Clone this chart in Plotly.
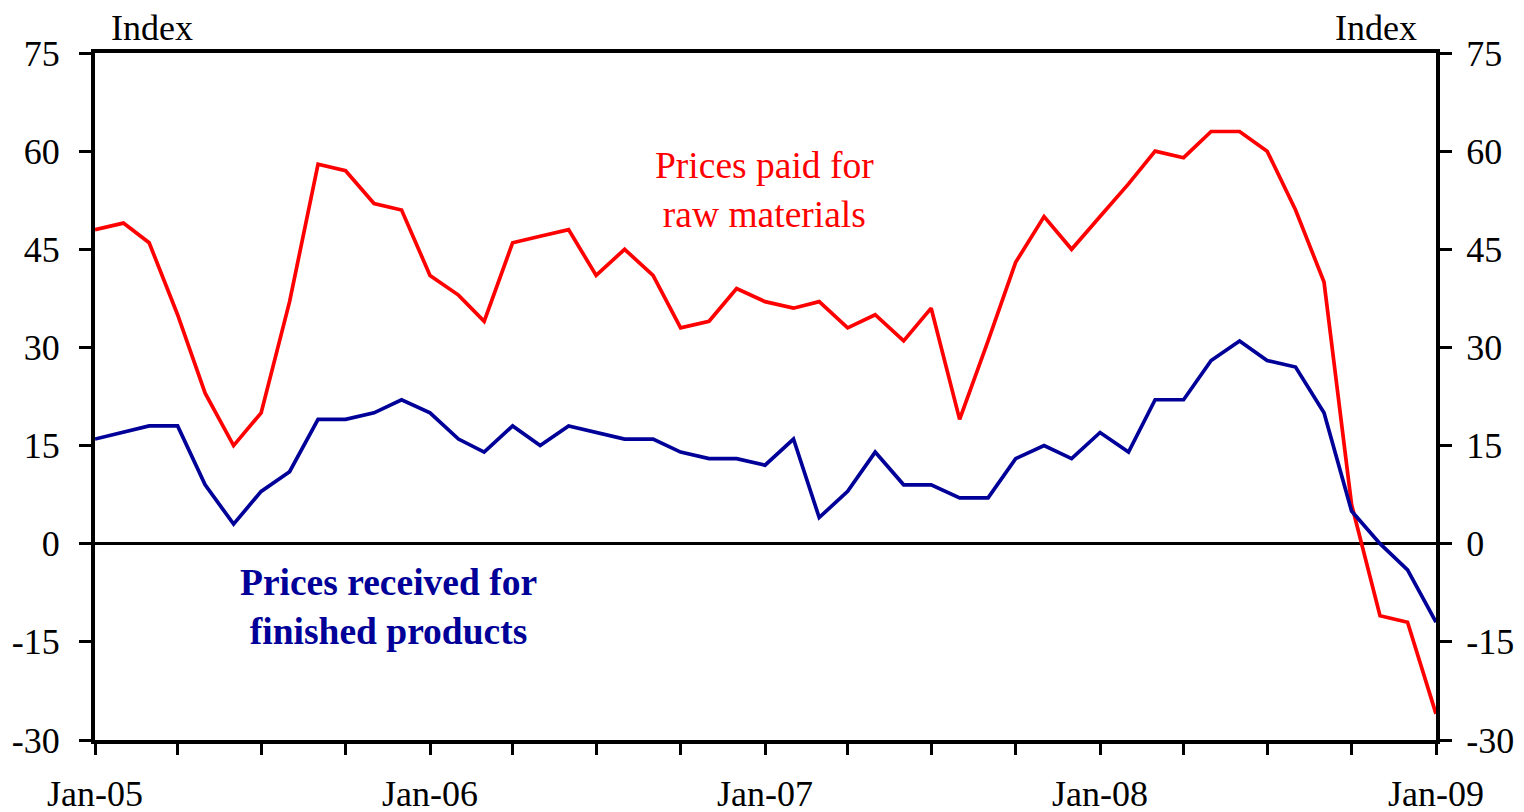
import plotly.graph_objects as go
import pandas as pd

months = pd.date_range("2005-01-01", periods=49, freq="MS")

prices_paid = [48, 49, 46, 35, 23, 15, 20, 37, 58, 57, 52, 51,
               41, 38, 34, 46, 47, 48, 41, 45, 41, 33, 34, 39,
               37, 36, 37, 33, 35, 31, 36, 19, 31, 43, 50, 45,
               50, 55, 60, 59, 63, 63, 60, 51, 40, 6, -11, -12, -26]
prices_received = [16, 17, 18, 18, 9, 3, 8, 11, 19, 19, 20, 22,
                   20, 16, 14, 18, 15, 18, 17, 16, 16, 14, 13, 13,
                   12, 16, 4, 8, 14, 9, 9, 7, 7, 13, 15, 13,
                   17, 14, 22, 22, 28, 31, 28, 27, 20, 5, 0, -4, -12]

y_ticks = [-30, -15, 0, 15, 30, 45, 60, 75]
y_ticktext = ["-30", "-15", "0", "15", "30", "45", "60", "75"]
x_tickvals = ["2005-01-01", "2006-01-01", "2007-01-01", "2008-01-01", "2009-01-01"]
x_ticktext = ["Jan-05", "Jan-06", "Jan-07", "Jan-08", "Jan-09"]

RED = "#FF0000"
BLUE = "#000099"
FONT = "Liberation Serif"
FS = 36
FS_ANN = 37.5

fig = go.Figure()
fig.add_trace(go.Scatter(x=months, y=prices_paid, mode="lines",
                         line=dict(color=RED, width=3.7), name="Prices paid for raw materials"))
fig.add_trace(go.Scatter(x=months, y=prices_received, mode="lines",
                         line=dict(color=BLUE, width=3.7), name="Prices received for finished products"))
# invisible trace to activate right axis
fig.add_trace(go.Scatter(x=[months[0]], y=[0], yaxis="y2", mode="markers",
                         marker=dict(opacity=0), showlegend=False, hoverinfo="skip"))

fig.update_layout(
    width=1524, height=812,
    margin=dict(l=87, r=96, t=45, b=80, autoexpand=False),
    paper_bgcolor="white", plot_bgcolor="white",
    showlegend=False,
    font=dict(family=FONT, size=FS, color="black"),
    xaxis=dict(
        type="date", automargin=False,
        range=["2005-01-01", "2009-01-01"],
        tickvals=x_tickvals, ticktext=x_ticktext,
        ticks="outside", ticklen=11, tickwidth=3, tickcolor="black",
        minor=dict(dtick="M3", tick0="2005-01-01", ticks="outside", ticklen=11,
                   tickwidth=3, tickcolor="black", showgrid=False),
        showline=True, linecolor="black", linewidth=4, mirror=True,
        showgrid=False, zeroline=False,
        ticklabelstandoff=8,
        tickfont=dict(family=FONT, size=FS, color="black"),
    ),
    yaxis=dict(
        automargin=False,
        range=[-30, 75], tickvals=y_ticks, ticktext=y_ticktext,
        ticks="outside", ticklen=12, tickwidth=3, tickcolor="black",
        showline=True, linecolor="black", linewidth=4,
        showgrid=False,
        zeroline=True, zerolinecolor="black", zerolinewidth=3,
        ticklabelstandoff=12,
        tickfont=dict(family=FONT, size=FS, color="black"),
    ),
    yaxis2=dict(
        automargin=False,
        range=[-30, 75], tickvals=y_ticks, ticktext=y_ticktext,
        overlaying="y", side="right",
        ticks="outside", ticklen=12, tickwidth=3, tickcolor="black",
        showline=True, linecolor="black", linewidth=4,
        showgrid=False, zeroline=False,
        ticklabelstandoff=7,
        tickfont=dict(family=FONT, size=FS, color="black"),
    ),
    annotations=[
        dict(text="Index", xref="paper", yref="paper", x=0.0425, y=1.036,
             showarrow=False, font=dict(family=FONT, size=FS, color="black"),
             xanchor="center", yanchor="middle"),
        dict(text="Index", xref="paper", yref="paper", x=0.9553, y=1.036,
             showarrow=False, font=dict(family=FONT, size=FS, color="black"),
             xanchor="center", yanchor="middle"),
        dict(text="Prices paid for<br>raw materials", xref="paper", yref="paper",
             x=0.4996, y=0.8006, showarrow=False,
             font=dict(family=FONT, size=FS_ANN, color=RED),
             xanchor="center", yanchor="middle"),
        dict(text="<b>Prices received for<br>finished products</b>", xref="paper", yref="paper",
             x=0.2185, y=0.1943, showarrow=False,
             font=dict(family=FONT, size=FS_ANN, color=BLUE),
             xanchor="center", yanchor="middle"),
    ],
)

fig.write_html("out.html")
